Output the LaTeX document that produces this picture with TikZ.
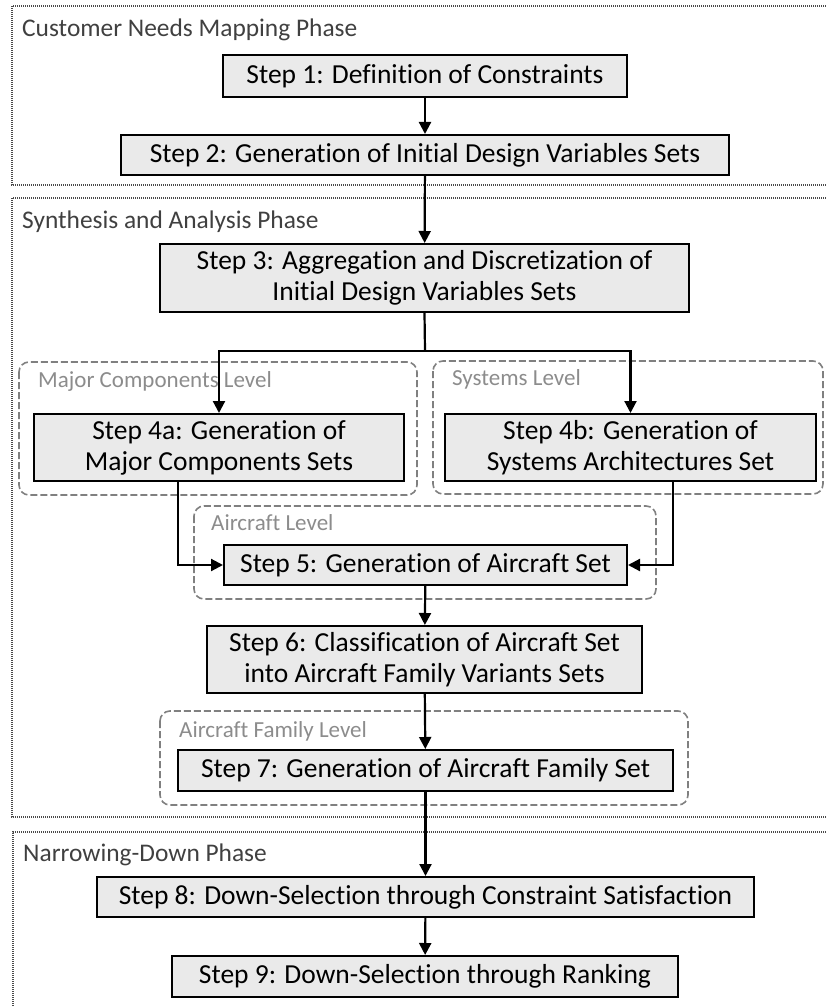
\documentclass[tikz,border=0pt]{standalone}
\usepackage{fontspec}
\setmainfont{Carlito}[Ligatures=NoCommon]
\usetikzlibrary{arrows.meta}
\definecolor{boxfill}{HTML}{EAEAEA}
\definecolor{phasetext}{HTML}{404040}
\definecolor{leveltext}{HTML}{8C8C8C}
\definecolor{dashgray}{HTML}{808080}
\definecolor{dotgray}{HTML}{4A4A4A}
\begin{document}
\begin{tikzpicture}[x=1pt,y=-1pt,
  stepbox/.style={draw=black, line width=2pt, fill=boxfill, inner sep=0pt, align=center, font=\fontsize{27.5}{31}\selectfont, text=black},
  phaselabel/.style={anchor=base west, inner sep=0pt, font=\fontsize{25.4}{30}\selectfont, text=phasetext},
  levellabel/.style={anchor=base west, inner sep=0pt, font=\fontsize{23}{28}\selectfont, text=leveltext},
  phase/.style={draw=dotgray, line width=1.4pt, dash pattern=on 1pt off 1pt},
  level/.style={draw=dashgray, line width=1.6pt, dash pattern=on 7pt off 3pt, rounded corners=10pt},
  conn/.style={draw=black, line width=2.2pt},
  arr/.style={conn, -{Triangle[width=12pt,length=12pt]}}
]
\useasboundingbox (0,0) rectangle (825,1006);
% phases
\draw[phase] (830,6) -- (12,6) -- (12,185) -- (830,185);
\draw[phase] (830,198) -- (12,198) -- (12,817) -- (830,817);
\draw[phase] (830,832) -- (13,832) -- (13,1012);
\node[phaselabel] (p1) at (22,37) {Customer Needs Mapping Phase};
\node[phaselabel] (p2) at (22,228) {Synthesis and Analysis Phase};
\node[phaselabel] (p3) at (23,861) {Narrowing-Down Phase};
% levels
\draw[level] (19,362) rectangle (417,495);
\draw[level] (433,361) rectangle (823,494);
\draw[level] (194,506) rectangle (656,599);
\draw[level] (160,711) rectangle (688,805);
\node[levellabel] (l1) at (38,387) {Major Components Level};
\node[levellabel] (l2) at (452,385) {Systems Level};
\node[levellabel] (l3) at (211,530) {Aircraft Level};
\node[levellabel] (l4) at (179,737) {Aircraft Family Level};
% steps
\node[stepbox, minimum width=404pt, minimum height=42pt] (s1) at (425,76) {Step 1: Definition of Constraints};
\node[stepbox, minimum width=608pt, minimum height=40pt] (s2) at (425,155) {Step 2: Generation of Initial Design Variables Sets};
\node[stepbox, minimum width=529pt, minimum height=68pt] (s3) at (424.5,278) {Step 3: Aggregation and Discretization of\\Initial Design Variables Sets};
\node[stepbox, minimum width=370pt, minimum height=67pt] (s4a) at (219,447.5) {Step 4a: Generation of\\Major Components Sets};
\node[stepbox, minimum width=371pt, minimum height=67pt] (s4b) at (630.5,447.5) {Step 4b: Generation of\\Systems Architectures Set};
\node[stepbox, minimum width=403pt, minimum height=40pt] (s5) at (425.5,565) {Step 5: Generation of Aircraft Set};
\node[stepbox, minimum width=435pt, minimum height=67pt] (s6) at (424.5,659.5) {Step 6: Classification of Aircraft Set\\into Aircraft Family Variants Sets};
\node[stepbox, minimum width=495pt, minimum height=41pt] (s7) at (425.5,770.5) {Step 7: Generation of Aircraft Family Set};
\node[stepbox, minimum width=657pt, minimum height=40pt] (s8) at (425.5,897) {Step 8: Down-Selection through Constraint Satisfaction};
\node[stepbox, minimum width=506pt, minimum height=41pt] (s9) at (425,976.5) {Step 9: Down-Selection through Ranking};
% connectors
\draw[arr] (s1) -- (s2);
\draw[arr] (s2) -- (s3);
\coordinate (j) at (425,351);
\draw[conn] (s3.south) -- (j);
\draw[arr] (j) -| (s4a.north);
\draw[arr] (j) -| (s4b.north);
\draw[arr] ([xshift=-41pt]s4a.south) |- (s5.west);
\draw[arr] ([xshift=42.5pt]s4b.south) |- (s5.east);
\draw[arr] (s5) -- (s6);
\draw[arr] (s6) -- (s7);
\draw[arr] (s7) -- (s8);
\draw[arr] (s8) -- (s9);
\end{tikzpicture}
\end{document}
